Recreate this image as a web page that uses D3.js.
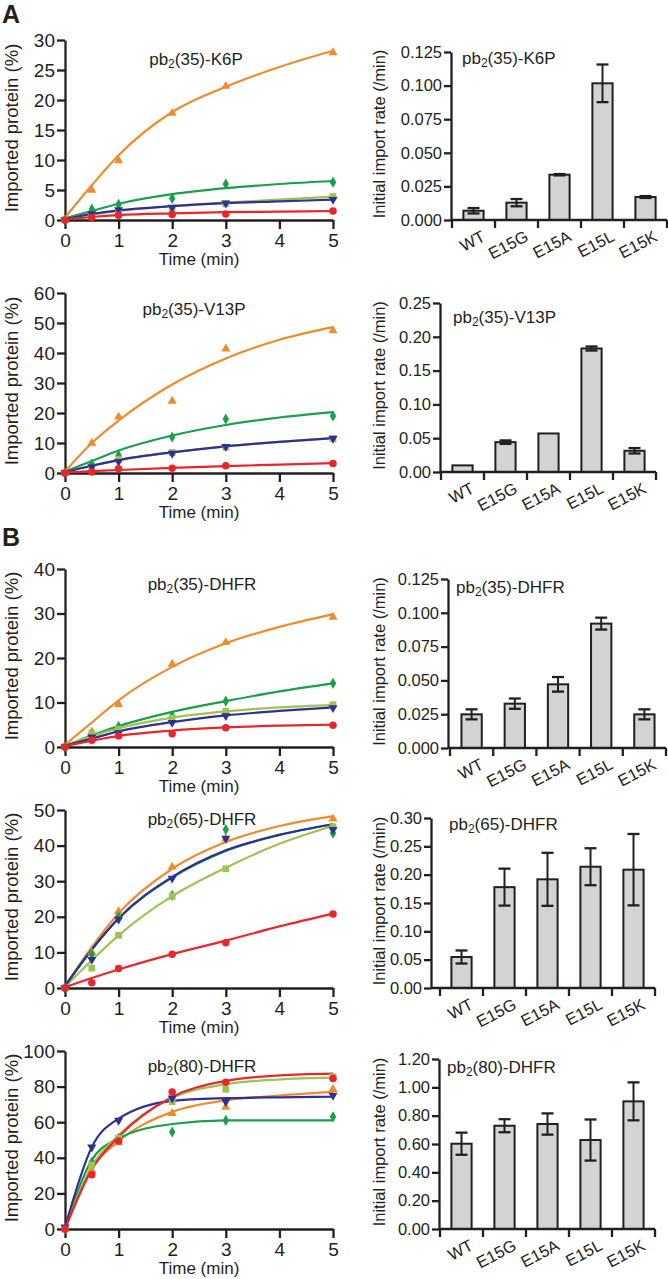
<!DOCTYPE html>
<html><head><meta charset="utf-8">
<script src="https://cdn.jsdelivr.net/npm/d3@7"></script>
<style>
html,body{margin:0;padding:0;background:#fff;}
svg{display:block;font-family:"Liberation Sans",Arial,Helvetica,sans-serif;}
</style></head>
<body><svg id="c" width="668" height="1279"></svg>
<script>
// ---------- DATA ----------
const mutants = ["WT", "E15G", "E15A", "E15L", "E15K"];
const pointTimes = [0, 0.5, 1, 2, 3, 5];
const fitTimes = [0, 0.5, 1, 2, 3, 4, 5];
const timeTicks = [0, 1, 2, 3, 4, 5];

// measured points, order: WT, E15G, E15A, E15L, E15K
const k6pPoints = [
  [0, 0.4, 0.8, 0.9, 1.0, 1.5],
  [0, 1.0, 1.7, 2.1, 2.8, 3.4],
  [0, 1.8, 2.6, 3.6, 6.0, 6.3],
  [0, 5.0, 9.9, 17.8, 22.3, 27.9],
  [0, 0.7, 1.3, 1.6, 2.7, 3.9]
];
const k6pFit = [
  [0.1, 0.5, 0.8, 1.1, 1.3, 1.4, 1.5],
  [0.2, 1.0, 1.6, 2.3, 2.8, 3.1, 3.4],
  [0.3, 1.5, 2.7, 4.3, 5.3, 6.0, 6.5],
  [0.4, 5.8, 10.8, 18.0, 22.2, 25.5, 28.2],
  [0.2, 0.9, 1.5, 2.3, 2.9, 3.4, 3.9]
];
const v13pPoints = [
  [0, 0.3, 1.4, 1.6, 2.4, 3.2],
  [0, 2.0, 3.8, 6.5, 8.8, 11.5],
  [0, 3.0, 5.9, 12.0, 18.0, 19.0],
  [0, 10.0, 18.7, 24.0, 41.4, 47.5],
  [0, 1.8, 4.6, 6.8, 8.6, 11.4]
];
const v13pFit = [
  [0.2, 0.6, 1.0, 1.7, 2.3, 2.8, 3.3],
  [0.3, 2.4, 4.3, 6.9, 8.9, 10.4, 11.6],
  [0.5, 4.0, 7.5, 12.5, 16.0, 18.5, 20.3],
  [0.5, 10.0, 17.5, 29.5, 38.2, 44.4, 48.6],
  [0.3, 2.4, 4.3, 6.9, 8.9, 10.4, 11.6]
];
const d35Points = [
  [0, 1.5, 2.5, 3.0, 4.3, 4.9],
  [0, 2.2, 3.2, 5.5, 7.0, 8.8],
  [0, 2.8, 4.6, 7.0, 10.3, 14.3],
  [0, 3.4, 9.6, 18.6, 23.5, 29.2],
  [0, 3.0, 4.0, 6.5, 8.0, 9.5]
];
const d35Fit = [
  [0.2, 1.4, 2.5, 3.7, 4.4, 4.8, 5.0],
  [0.3, 1.9, 3.5, 5.6, 7.1, 8.1, 8.9],
  [0.3, 2.6, 4.7, 7.9, 10.3, 12.5, 14.3],
  [0.5, 5.5, 10.5, 18.0, 23.3, 27.0, 29.8],
  [0.3, 2.4, 4.2, 6.6, 8.0, 8.9, 9.4]
];
const d65Points = [
  [0, 1.5, 5.5, 9.5, 12.7, 20.8],
  [0, 8.0, 19.3, 30.8, 42.0, 44.5],
  [0, 9.5, 20.0, 26.0, 44.5, 43.5],
  [0, 10.0, 21.5, 34.0, 41.9, 47.5],
  [0, 5.6, 14.8, 25.8, 33.5, 45.3]
];
const d65Fit = [
  [0.2, 2.8, 5.2, 9.5, 13.3, 17.3, 20.9],
  [0.5, 10.8, 19.6, 31.2, 38.7, 43.0, 46.0],
  [0.5, 10.8, 19.5, 31.0, 38.5, 43.0, 46.0],
  [0.5, 11.5, 21.0, 33.5, 41.0, 45.5, 48.3],
  [0.3, 7.8, 14.8, 25.8, 33.8, 40.5, 45.5]
];
const d80Points = [
  [0, 30.5, 49.5, 77.0, 82.5, 84.5],
  [1, 46.0, 61.0, 73.5, 71.5, 75.0],
  [0, 37.5, 51.0, 54.5, 61.0, 63.0],
  [0, 33.0, 48.5, 65.0, 68.5, 78.5],
  [0, 36.0, 51.0, 71.5, 78.5, 85.5]
];
const d80Fit = [
  [0, 33.5, 51.8, 74.2, 83.2, 86.3, 87.3],
  [1, 46.0, 62.0, 72.0, 73.5, 74.0, 74.3],
  [0, 38.7, 50.8, 59.0, 61.0, 61.0, 61.0],
  [0, 34.0, 49.3, 65.8, 72.3, 75.0, 77.0],
  [0, 35.3, 52.7, 73.8, 81.3, 84.0, 85.0]
];

// initial import rates (/min) and error
const k6pRate = [0.0069, 0.0129, 0.0337, 0.1017, 0.0171];
const k6pErr  = [0.0020, 0.0027, 0.0005, 0.0140, 0.0007];
const v13pRate = [0.0098, 0.0442, 0.0570, 0.1827, 0.0314];
const v13pErr  = [0, 0.0025, 0, 0.0030, 0.0040];
const d35Rate = [0.0249, 0.0328, 0.0471, 0.0920, 0.0249];
const d35Err  = [0.0037, 0.0038, 0.0054, 0.0044, 0.0037];
const d65Rate = [0.0547, 0.1780, 0.1918, 0.2140, 0.2088];
const d65Err  = [0.0115, 0.0326, 0.0468, 0.0326, 0.0630];
const d80Rate = [0.602, 0.729, 0.741, 0.628, 0.901];
const d80Err  = [0.078, 0.046, 0.075, 0.145, 0.134];

// y tick values
const k6pTicks = [0, 5, 10, 15, 20, 25, 30];
const v13pTicks = [0, 10, 20, 30, 40, 50, 60];
const d35Ticks = [0, 10, 20, 30, 40];
const d65Ticks = [0, 10, 20, 30, 40, 50];
const d80Ticks = [0, 20, 40, 60, 80, 100];
const rateTicksA = [0, 0.025, 0.05, 0.075, 0.1, 0.125];
const rateTicksB = [0, 0.05, 0.1, 0.15, 0.2, 0.25];
const rateTicksC = [0, 0.05, 0.1, 0.15, 0.2, 0.25, 0.3];
const rateTicksD = [0, 0.2, 0.4, 0.6, 0.8, 1.0, 1.2];

// ---------- STYLE ----------
const colors = {WT: "#e8262b", E15G: "#2e3192", E15A: "#1a9f4b", E15L: "#ef8a2d", E15K: "#9cc452"};
const symbols = {WT: "circle", E15G: "tdown", E15A: "diamond", E15L: "tup", E15K: "square"};
const drawOrder = [3, 2, 4, 1, 0];
const INK = "#231f20";

const svg = d3.select("#c");

function styleAxis(g, fs) {
  g.selectAll("path.domain").attr("stroke", INK).attr("stroke-width", 2.3);
  g.selectAll(".tick line").attr("stroke", INK).attr("stroke-width", 2.3);
  g.selectAll(".tick text").attr("fill", INK).attr("font-size", fs);
}

function title(g, x, y, base, anchor) {
  const t = g.append("text").attr("x", x).attr("y", y).attr("font-size", 17)
    .attr("fill", INK).attr("text-anchor", anchor);
  t.append("tspan").text("pb");
  t.append("tspan").attr("font-size", 12).attr("dy", 3).text("2");
  t.append("tspan").attr("dy", -3).text(base);
}

function symbolPath(kind) {
  if (kind === "circle") return d3.symbol(d3.symbolCircle, 44)();
  if (kind === "square") return d3.symbol(d3.symbolSquare, 46)();
  if (kind === "diamond") return d3.symbol(d3.symbolDiamond, 36)();
  return d3.symbol(d3.symbolTriangle, 36)();
}

function linePanel(cfg) {
  const x = d3.scaleLinear().domain([0, 5]).range([65, 333]);
  const y = d3.scaleLinear().domain([0, cfg.yMax]).range([cfg.y0, cfg.yTop]);
  const g = svg.append("g");
  const gx = g.append("g").attr("transform", `translate(0,${cfg.y0})`)
    .call(d3.axisBottom(x).tickValues(timeTicks).tickFormat(d3.format("d")).tickSize(9).tickPadding(5).tickSizeOuter(0));
  const gy = g.append("g").attr("transform", `translate(65,0)`)
    .call(d3.axisLeft(y).tickValues(cfg.ticks).tickFormat(d3.format("d")).tickSize(8).tickPadding(2).tickSizeOuter(0));
  styleAxis(gx, 19); styleAxis(gy, 19);
  g.append("text").attr("x", 199).attr("y", cfg.y0 + 45).attr("text-anchor", "middle")
    .attr("font-size", 17).attr("fill", INK).text("Time (min)");
  g.append("text").attr("transform", `translate(18,${(cfg.y0 + cfg.yTop) / 2 - 2}) rotate(-90)`)
    .attr("text-anchor", "middle").attr("font-size", 18.5).attr("fill", INK).text("Imported protein (%)");
  title(g, cfg.titleX, cfg.titleY, cfg.title, "middle");
  const line = d3.line().x((d, i) => x(fitTimes[i])).y(d => y(d)).curve(d3.curveMonotoneX);
  drawOrder.forEach(si => {
    const m = mutants[si];
    g.append("path").datum(cfg.fit[si]).attr("d", line).attr("fill", "none")
      .attr("stroke", colors[m]).attr("stroke-width", 2.2);
  });
  drawOrder.forEach(si => {
    const m = mutants[si];
    g.selectAll(null).data(cfg.points[si]).enter().append("path")
      .attr("d", symbolPath(symbols[m]))
      .attr("transform", (d, i) => `translate(${x(pointTimes[i])},${y(d)})` + (symbols[m] === "tdown" ? " rotate(180)" : ""))
      .attr("fill", colors[m]);
  });
}

function barPanel(cfg) {
  const x = d3.scaleBand().domain(mutants).range([cfg.bandL, cfg.bandR]).paddingInner(0.53).paddingOuter(0.265);
  const y = d3.scaleLinear().domain([0, cfg.yMax]).range([cfg.y0, cfg.yTop]);
  const g = svg.append("g");
  g.selectAll(null).data(cfg.rate).enter().append("rect")
    .attr("x", (d, i) => x(mutants[i])).attr("width", x.bandwidth())
    .attr("y", d => y(d)).attr("height", d => cfg.y0 - y(d))
    .attr("fill", "#d3d3d3").attr("stroke", INK).attr("stroke-width", 2);
  cfg.rate.forEach((v, i) => {
    const e = cfg.err[i];
    if (!e) return;
    const cx = x(mutants[i]) + x.bandwidth() / 2;
    g.append("line").attr("x1", cx).attr("x2", cx).attr("y1", y(v - e)).attr("y2", y(v + e))
      .attr("stroke", INK).attr("stroke-width", 2);
    [v - e, v + e].forEach(yy => g.append("line").attr("x1", cx - 6).attr("x2", cx + 6)
      .attr("y1", y(yy)).attr("y2", y(yy)).attr("stroke", INK).attr("stroke-width", 2.3));
  });
  const gy = g.append("g").attr("transform", `translate(${cfg.axisX},0)`)
    .call(d3.axisLeft(y).tickValues(cfg.ticks).tickFormat(d3.format(cfg.fmt)).tickSize(7).tickPadding(2).tickSizeOuter(0));
  styleAxis(gy, 16.5);
  g.append("line").attr("x1", cfg.axisX).attr("x2", cfg.bandR).attr("y1", cfg.y0).attr("y2", cfg.y0)
    .attr("stroke", INK).attr("stroke-width", 2.3);
  const bounds = d3.range(6).map(k => cfg.bandL + k * (cfg.bandR - cfg.bandL) / 5);
  g.selectAll(null).data(bounds).enter().append("line")
    .attr("x1", d => d).attr("x2", d => d).attr("y1", cfg.y0).attr("y2", cfg.y0 + 8)
    .attr("stroke", INK).attr("stroke-width", 2.3);
  g.selectAll(null).data(mutants).enter().append("text")
    .attr("transform", d => `translate(${x(d) + x.bandwidth() / 2 + 13},${cfg.y0 + 20}) rotate(-28)`)
    .attr("text-anchor", "end").attr("font-size", 16.5).attr("fill", INK).text(d => d);
  g.append("text").attr("transform", `translate(385,${(cfg.y0 + cfg.yTop) / 2 - 2}) rotate(-90)`)
    .attr("text-anchor", "middle").attr("font-size", 16.5).attr("fill", INK).text("Initial import rate (/min)");
  title(g, cfg.titleX, cfg.titleY, cfg.title, "start");
}

svg.append("text").attr("x", 2).attr("y", 23).attr("font-size", 25).attr("font-weight", "bold").attr("fill", INK).text("A");
svg.append("text").attr("x", 2).attr("y", 546).attr("font-size", 25).attr("font-weight", "bold").attr("fill", INK).text("B");

linePanel({points: k6pPoints, fit: k6pFit, yMax: 30, ticks: k6pTicks, y0: 220, yTop: 40, title: "(35)-K6P", titleX: 196, titleY: 65});
linePanel({points: v13pPoints, fit: v13pFit, yMax: 60, ticks: v13pTicks, y0: 473, yTop: 293, title: "(35)-V13P", titleX: 194, titleY: 315});
linePanel({points: d35Points, fit: d35Fit, yMax: 40, ticks: d35Ticks, y0: 747, yTop: 569, title: "(35)-DHFR", titleX: 202, titleY: 590});
linePanel({points: d65Points, fit: d65Fit, yMax: 50, ticks: d65Ticks, y0: 988, yTop: 810, title: "(65)-DHFR", titleX: 202, titleY: 825});
linePanel({points: d80Points, fit: d80Fit, yMax: 100, ticks: d80Ticks, y0: 1229, yTop: 1051, title: "(80)-DHFR", titleX: 202, titleY: 1072});

barPanel({rate: k6pRate, err: k6pErr, yMax: 0.125, ticks: rateTicksA, fmt: ".3f", axisX: 451, bandL: 452, bandR: 667, y0: 220, yTop: 52, title: "(35)-K6P", titleX: 462, titleY: 64});
barPanel({rate: v13pRate, err: v13pErr, yMax: 0.25, ticks: rateTicksB, fmt: ".2f", axisX: 440, bandL: 441, bandR: 656, y0: 472, yTop: 303, title: "(35)-V13P", titleX: 453, titleY: 323});
barPanel({rate: d35Rate, err: d35Err, yMax: 0.125, ticks: rateTicksA, fmt: ".3f", axisX: 448, bandL: 450, bandR: 666, y0: 748, yTop: 579, title: "(35)-DHFR", titleX: 456, titleY: 593});
barPanel({rate: d65Rate, err: d65Err, yMax: 0.30, ticks: rateTicksC, fmt: ".2f", axisX: 431, bandL: 440, bandR: 655, y0: 988, yTop: 818, title: "(65)-DHFR", titleX: 449, titleY: 830});
barPanel({rate: d80Rate, err: d80Err, yMax: 1.20, ticks: rateTicksD, fmt: ".2f", axisX: 439, bandL: 440, bandR: 655, y0: 1229, yTop: 1059, title: "(80)-DHFR", titleX: 447, titleY: 1073});
</script></body></html>
